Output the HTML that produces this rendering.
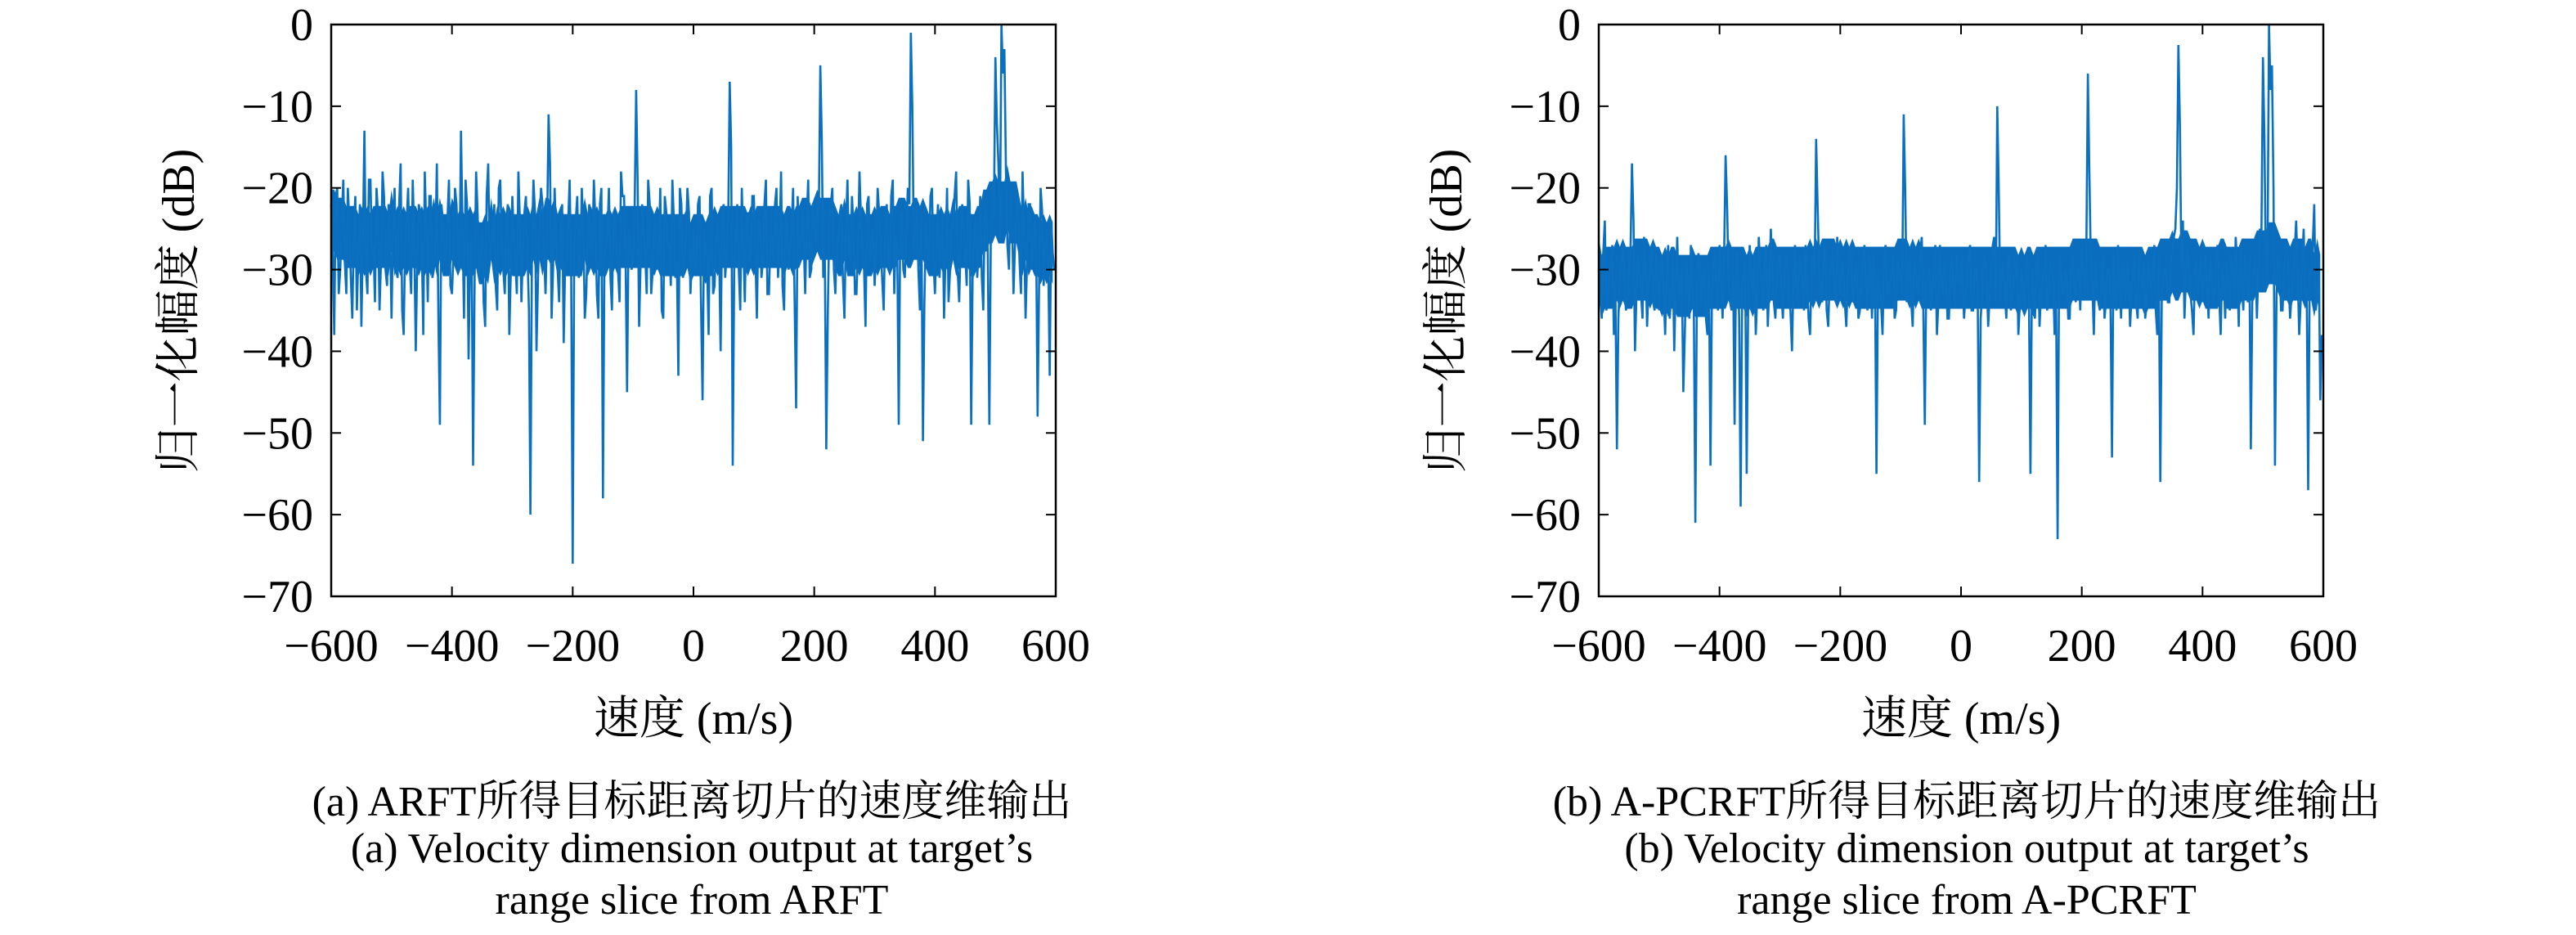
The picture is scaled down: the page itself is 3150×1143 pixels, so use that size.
<!DOCTYPE html>
<html><head><meta charset="utf-8"><style>
html,body{margin:0;padding:0;background:#fff;}
svg{display:block;}
text{font-family:"Liberation Serif","Noto Serif CJK SC",serif;fill:#000;}
</style></head><body>
<svg id="fig" width="3150" height="1143" viewBox="0 0 3150 1143"></svg>
<script>
const xTicks=[-600,-400,-200,0,200,400,600];
const yTicks=[0,-10,-20,-30,-40,-50,-60,-70];
const velStart=-600, velStep=5;
const seriesA=[
-22,-38,-20,-30,-19,-33,-24,-36,-21,-28,-37,-13,-33,-19,-27,-20,-35,-18,-30,-22,
-36,-20,-31,-17,-38,-24,-29,-19,-40,-22,-27,-18,-34,-21,-30,-17,-49,-24,-28,-19,
-33,-20,-27,-13,-36,-22,-29,-54,-18,-31,-25,-37,-17,-28,-22,-35,-19,-30,-24,-38,
-21,-29,-18,-34,-23,-28,-60,-19,-40,-25,-22,-33,-11,-36,-20,-30,-24,-39,-29,-19,
-66,-24,-31,-20,-36,-25,-28,-19,-33,-22,-58,-27,-20,-35,-24,-30,-18,-21,-45,-26,
-29,-8,-37,-22,-28,-19,-33,-24,-30,-20,-36,-23,-27,-19,-31,-43,-22,-29,-20,-33,
-25,-30,-21,-46,-27,-38,-20,-32,-24,-40,-22,-28,-7,-54,-26,-30,-20,-34,-23,-29,
-21,-36,-24,-29,-19,-33,-26,-22,-31,-18,-35,-24,-28,-20,-47,-27,-22,-33,-19,-30,
-25,-21,-5,-31,-52,-24,-20,-33,-27,-22,-36,-19,-29,-25,-33,-18,-28,-37,-21,-26,
-32,-20,-27,-35,-22,-30,-19,-26,-49,-23,-31,-20,-1,-28,-22,-35,-51,-24,-29,-20,
-33,-22,-27,-36,-20,-30,-25,-18,-34,-22,-28,-19,-49,-26,-31,-21,-35,-23,-49,-20,
-4,-17,0,-3,-27,-20,-33,-23,-29,-18,-36,-22,-30,-24,-48,-20,-32,-25,-43,-28];
const seriesAHalf=[
-27,-21,-33,-24,-29,-20,-31,-25,-35,-22,-26,-30,-19,-28,-34,-23,-29,-21,-32,-26,
-24,-30,-22,-35,-27,-20,-33,-26,-29,-23,-38,-25,-21,-31,-27,-36,-22,-29,-24,-32,
-28,-22,-30,-25,-19,-41,-26,-31,-23,-28,-34,-21,-29,-25,-32,-20,-27,-33,-22,-30,
-26,-33,-24,-28,-21,-35,-27,-23,-31,-20,-28,-25,-17,-30,-26,-34,-22,-29,-24,-31,
-27,-21,-30,-25,-33,-22,-28,-24,-36,-20,-29,-26,-31,-23,-27,-34,-21,-28,-25,-30,
-23,-19,-29,-26,-33,-22,-30,-25,-28,-35,-21,-27,-32,-24,-29,-20,-31,-26,-23,-28,
-30,-22,-34,-25,-29,-21,-33,-26,-28,-23,-31,-24,-15,-30,-22,-35,-27,-24,-29,-21,
-28,-24,-31,-22,-33,-26,-29,-20,-27,-32,-23,-30,-25,-34,-21,-28,-26,-24,-31,-22,
-27,-24,-14,-28,-35,-22,-30,-26,-23,-31,-25,-28,-21,-33,-27,-24,-30,-22,-29,-25,
-28,-23,-31,-25,-29,-21,-33,-27,-24,-30,-26,-22,-10,-25,-30,-23,-34,-27,-21,-29,
-26,-31,-23,-28,-34,-24,-21,-30,-27,-25,-32,-22,-29,-24,-27,-31,-22,-28,-26,-24,
-12,-26,-6,-18,-30,-23,-27,-21,-33,-25,-29,-22,-28,-26,-31,-23,-27,-29,-24,-30];
const seriesB=[
-30,-36,-24,-34,-29,-38,-52,-31,-27,-35,-30,-17,-40,-28,-33,-26,-37,-30,-34,-28,
-35,-29,-38,-27,-33,-40,-26,-31,-45,-29,-36,-32,-61,-28,-34,-30,-38,-54,-29,-33,
-27,-36,-16,-31,-35,-49,-28,-59,-30,-55,-27,-33,-38,-26,-32,-29,-37,-25,-34,-31,
-28,-36,-30,-34,-40,-27,-33,-29,-35,-31,-38,-28,-14,-30,-34,-27,-37,-29,-32,-26,
-33,-30,-37,-28,-34,-29,-36,-31,-27,-35,-30,-28,-55,-32,-38,-27,-33,-30,-36,-29,
-31,-11,-34,-28,-37,-30,-33,-26,-49,-31,-35,-29,-38,-27,-33,-30,-36,-28,-34,-31,
-29,-36,-31,-27,-35,-30,-56,-33,-28,-37,-31,-26,-10,-34,-30,-36,-28,-33,-31,-38,
-30,-35,-28,-55,-33,-29,-37,-31,-27,-34,-30,-38,-63,-29,-33,-31,-36,-28,-34,-30,
-27,-33,-6,-29,-38,-31,-35,-28,-34,-30,-53,-33,-27,-36,-31,-29,-37,-30,-34,-28,
-32,-36,-29,-33,-27,-38,-56,-31,-30,-34,-28,-25,-2.5,-30,-36,-27,-33,-38,-29,-31,
-34,-28,-36,-30,-33,-27,-38,-31,-29,-35,-30,-26,-37,-32,-28,-34,-52,-30,-36,-25,
-4,-32,0,-5,-54,-28,-35,-30,-27,-36,-31,-24,-38,-29,-34,-57,-30,-22,-33,-46];
const seriesBHalf=[
-33,-28,-35,-30,-27,-32,-36,-29,-31,-34,-28,-24,-33,-30,-36,-29,-32,-27,-35,-31,
-29,-33,-30,-36,-28,-32,-34,-30,-38,-31,-27,-35,-33,-29,-31,-36,-30,-33,-28,-35,
-31,-29,-22,-34,-30,-28,-36,-32,-29,-34,-31,-28,-33,-30,-35,-27,-32,-30,-36,-29,
-33,-30,-28,-35,-31,-34,-29,-32,-27,-36,-30,-31,-22,-33,-29,-35,-31,-28,-34,-30,
-29,-34,-31,-27,-33,-30,-35,-29,-32,-28,-36,-31,-30,-34,-29,-33,-31,-28,-35,-30,
-33,-20,-30,-34,-29,-32,-28,-35,-31,-30,-33,-27,-34,-31,-29,-36,-30,-33,-28,-32,
-31,-33,-28,-35,-30,-32,-36,-29,-31,-33,-27,-34,-20,-30,-33,-29,-35,-31,-28,-34,
-32,-29,-34,-30,-36,-28,-33,-30,-35,-29,-31,-34,-28,-33,-30,-36,-29,-32,-30,-35,
-30,-28,-18,-32,-29,-34,-31,-36,-30,-33,-28,-35,-31,-29,-34,-30,-33,-28,-36,-31,
-29,-34,-31,-30,-35,-28,-33,-30,-34,-29,-26,-20,-12,-24,-31,-29,-35,-30,-33,-28,
-30,-32,-29,-34,-28,-33,-30,-36,-31,-28,-34,-30,-27,-35,-31,-29,-33,-28,-30,-26,
-14,-30,-8,-20,-33,-29,-35,-27,-31,-33,-28,-30,-34,-25,-32,-30,-27,-35,-29,-38];
const captionsA=["(a) ARFT所得目标距离切片的速度维输出","(a) Velocity dimension output at target’s","range slice from ARFT"];
const captionsB=["(b) A-PCRFT所得目标距离切片的速度维输出","(b) Velocity dimension output at target’s","range slice from A-PCRFT"];

const NS="http://www.w3.org/2000/svg";
const svg=document.getElementById('fig');
function mk(tag,attrs,parent){const e=document.createElementNS(NS,tag);for(const k in attrs)e.setAttribute(k,attrs[k]);(parent||svg).appendChild(e);return e;}
function fmt(v){return v<0?"\u2212"+Math.abs(v):String(v);}

function panel(id,left,right,series,half,caps,capX){
  const top=30,bottom=729;
  const g=mk('g',{});
  
  
  const xs=v=>left+(v+600)/1200*(right-left);
  const ys=v=>top+(-v)/70*(bottom-top);
  // dense core band derived from rolling median of data
  const up=[],lo=[];
  series.forEach((v,i)=>{
    const w=[];
    for(let k=-5;k<=5;k++){const j=i+k;if(j>=0&&j<series.length){w.push(series[j]);w.push(half[j]);}}
    w.sort((a,b)=>a-b);
    const med=w[Math.floor(w.length/2)];
    const x=xs(velStart+i*velStep);
    up.push(x.toFixed(1)+","+ys(med+3.8).toFixed(1));
    lo.unshift(x.toFixed(1)+","+ys(med-3.8).toFixed(1));
  });
  const band=mk('polygon',{points:up.concat(lo).join(" "),fill:'#0b6dbe',stroke:'none'},g);
  
  
  const pts=[];
  series.forEach((v,i)=>{
    const vel=velStart+i*velStep;
    pts.push(xs(vel).toFixed(1)+","+ys(v).toFixed(1));
    if(i<half.length&&vel+velStep/2<=600) pts.push(xs(vel+velStep/2).toFixed(1)+","+ys(half[i]).toFixed(1));
  });
  const line=mk('polyline',{points:pts.join(" "),fill:'none',stroke:'#0a70bf','stroke-width':2.6,'stroke-linejoin':'miter'},g);
  
  
  const box=mk('rect',{x:left,y:top,width:right-left,height:bottom-top,fill:'none',stroke:'#000','stroke-width':2.5},g);
  
  
  const tl=12;
  xTicks.forEach(t=>{
    const x=xs(t);
    mk('line',{x1:x,y1:bottom,x2:x,y2:bottom-tl,stroke:'#000','stroke-width':2},g);
    mk('line',{x1:x,y1:top,x2:x,y2:top+tl,stroke:'#000','stroke-width':2},g);
    const tx=mk('text',{x:x,y:808,'font-size':56,'text-anchor':'middle'},g);
    tx.textContent=fmt(t);
    
    
  });
  yTicks.forEach(t=>{
    const y=ys(t);
    mk('line',{x1:left,y1:y,x2:left+tl,y2:y,stroke:'#000','stroke-width':2},g);
    mk('line',{x1:right,y1:y,x2:right-tl,y2:y,stroke:'#000','stroke-width':2},g);
    const tx=mk('text',{x:left-22,y:y+19,'font-size':56,'text-anchor':'end'},g);
    tx.textContent=fmt(t);
    
    
  });
  const xl=mk('text',{x:(left+right)/2,y:897,'font-size':56,'text-anchor':'middle'},g);
  xl.textContent="速度 (m/s)";
  
  
  const yl=mk('text',{x:0,y:0,'font-size':56,'text-anchor':'middle',transform:`translate(${left-168},380) rotate(-90)`},g);
  yl.textContent="归一化幅度 (dB)";
  
  
  [997,1054,1117].forEach((y,i)=>{
    const c=mk('text',{x:capX,y:y,'font-size':52,'text-anchor':'middle'},g);
    c.textContent=caps[i];
    
    
  });
}
panel('panel-arft',405,1291,seriesA,seriesAHalf,captionsA,846);
panel('panel-a-pcrft',1955,2841,seriesB,seriesBHalf,captionsB,2405);
</script>
</body></html>
